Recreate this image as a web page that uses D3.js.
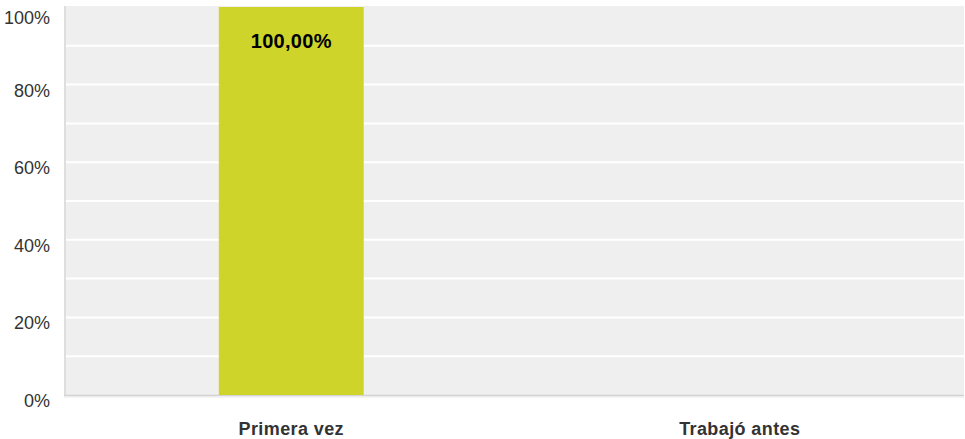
<!DOCTYPE html>
<html>
<head>
<meta charset="utf-8">
<script src="https://cdn.jsdelivr.net/npm/d3@7"></script>
<style>
  body { margin: 0; background: #fff; }
  text { font-family: "Liberation Sans", Arial, sans-serif; }
</style>
</head>
<body>
<svg id="chart" width="965" height="439"></svg>
<script>
// data
var categories = ["Primera vez", "Trabajó antes"];
var values = [100, null];
var valueLabels = ["100,00%", ""];
var yTicks = [0, 20, 40, 60, 80, 100];
var yGrid = [10, 20, 30, 40, 50, 60, 70, 80, 90];

var svg = d3.select("#chart"),
    cs = {
        pallette: {
            plotFill: "#efefef",
            grid: "#ffffff",
            bar: "#ced42a",
            border: "#dedede",
            text: "#333333"
        },
        plot: { left: 64, right: 964, top: 6, bottom: 395 }
    };

cs.x = d3.scaleBand()
    .domain(categories)
    .range([cs.plot.left + 3, cs.plot.right])
    .paddingInner(0.677)
    .paddingOuter(0.3385);

cs.y = d3.scaleLinear()
    .domain([0, 100])
    .range([cs.plot.bottom, 7]);

// plot background
svg.append("rect")
    .attr("x", cs.plot.left)
    .attr("y", cs.plot.top)
    .attr("width", cs.plot.right - cs.plot.left)
    .attr("height", cs.plot.bottom - cs.plot.top)
    .attr("fill", cs.pallette.plotFill);

// gridlines
svg.append("g").selectAll("line")
    .data(yGrid)
    .enter().append("line")
    .attr("x1", cs.plot.left)
    .attr("x2", cs.plot.right)
    .attr("y1", d => cs.y(d))
    .attr("y2", d => cs.y(d))
    .attr("stroke", cs.pallette.grid)
    .attr("stroke-width", 2);

// borders
svg.append("line")
    .attr("x1", cs.plot.left + 1).attr("x2", cs.plot.left + 1)
    .attr("y1", cs.plot.top).attr("y2", cs.plot.bottom + 1)
    .attr("stroke", cs.pallette.border).attr("stroke-width", 2);
svg.append("line")
    .attr("x1", cs.plot.left).attr("x2", cs.plot.right)
    .attr("y1", cs.plot.bottom + 0.5).attr("y2", cs.plot.bottom + 0.5)
    .attr("stroke", "#d2d2d2").attr("stroke-width", 1.5);
svg.append("line")
    .attr("x1", cs.plot.left).attr("x2", cs.plot.right)
    .attr("y1", cs.plot.bottom + 2).attr("y2", cs.plot.bottom + 2)
    .attr("stroke", "#e8e8e8").attr("stroke-width", 1);

var barData = categories
    .map((c, i) => ({ cat: c, v: values[i], label: valueLabels[i] }))
    .filter(d => d.v != null);

// bars
svg.append("g").selectAll("rect")
    .data(barData)
    .enter().append("rect")
    .attr("x", d => cs.x(d.cat))
    .attr("y", d => Math.max(cs.y(d.v), cs.plot.top))
    .attr("width", cs.x.bandwidth())
    .attr("height", d => cs.plot.bottom - Math.max(cs.y(d.v), cs.plot.top))
    .attr("fill", cs.pallette.bar);

// value labels
svg.append("g").selectAll("text")
    .data(barData)
    .enter().append("text")
    .attr("x", d => cs.x(d.cat) + cs.x.bandwidth() / 2)
    .attr("y", d => cs.y(d.v) + 41)
    .attr("text-anchor", "middle")
    .attr("font-size", "20px")
    .attr("font-weight", "bold")
    .attr("letter-spacing", "0.3px")
    .attr("fill", "#000")
    .text(d => d.label);

// y axis labels
svg.append("g").selectAll("text")
    .data(yTicks)
    .enter().append("text")
    .attr("x", 50)
    .attr("y", d => Math.max(cs.y(d) + 12, 24))
    .attr("text-anchor", "end")
    .attr("font-size", "18px")
    .attr("fill", cs.pallette.text)
    .text(d => d + "%");

// x axis labels
svg.append("g").selectAll("text")
    .data(categories)
    .enter().append("text")
    .attr("x", d => cs.x(d) + cs.x.bandwidth() / 2)
    .attr("y", 435)
    .attr("text-anchor", "middle")
    .attr("font-size", "18px")
    .attr("font-weight", "bold")
    .attr("letter-spacing", "0.4px")
    .attr("fill", cs.pallette.text)
    .text(d => d);
</script>
</body>
</html>
